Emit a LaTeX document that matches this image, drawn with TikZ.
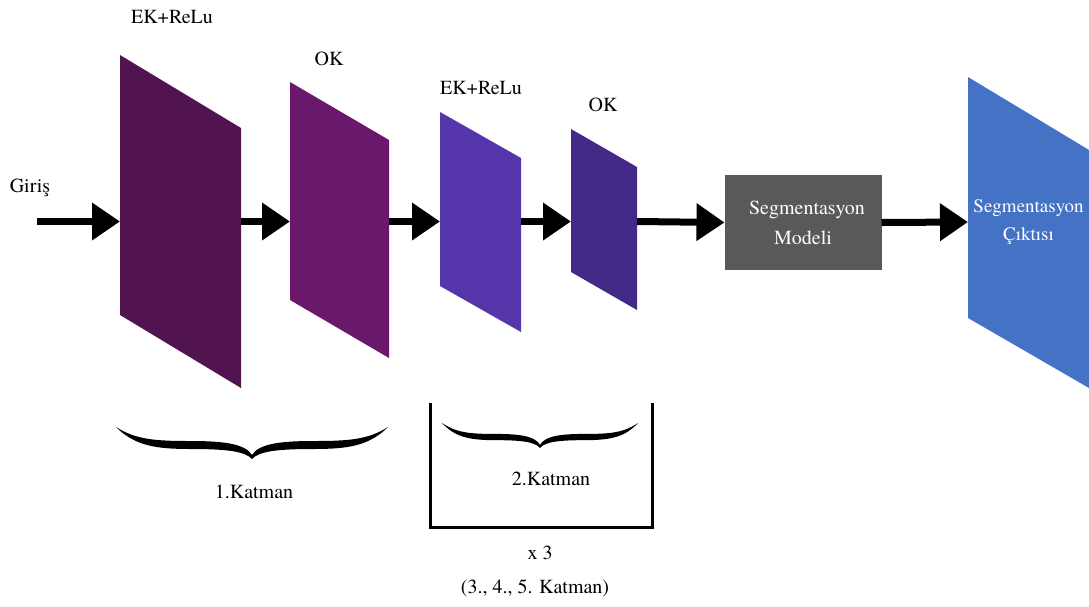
\documentclass[tikz,border=0pt]{standalone}
\usepackage{fontspec}
\setmainfont{texgyretermes}[Extension=.otf, UprightFont=*-regular, BoldFont=*-bold,
  ItalicFont=*-italic, BoldItalicFont=*-bolditalic]
\usetikzlibrary{arrows.meta}
\definecolor{convA}{HTML}{521451}
\definecolor{poolA}{HTML}{6A186B}
\definecolor{convB}{HTML}{5535AA}
\definecolor{poolB}{HTML}{442A88}
\definecolor{segbox}{HTML}{595959}
\definecolor{outblue}{HTML}{4472C4}

% calligraphic curly brace: centre x, top y, half width, vertical scale
\newcommand\curlybrace[4]{%
  \begin{scope}[shift={(#1,#2)}, xscale=#3, yscale=#4]
    \fill (-1,0) .. controls (-0.85,13) and (-0.7,14) .. (-0.45,14)
      .. controls (-0.2,14) and (-0.05,17) .. (0,28)
      .. controls (0.05,17) and (0.2,14) .. (0.45,14)
      .. controls (0.7,14) and (0.85,13) .. (1,0)
      -- (0.985,2) .. controls (0.85,19) and (0.7,22) .. (0.45,22)
      .. controls (0.2,22) and (0.05,24) .. (0,32)
      .. controls (-0.05,24) and (-0.2,22) .. (-0.45,22)
      .. controls (-0.7,22) and (-0.85,19) .. (-0.985,2) -- cycle;
  \end{scope}}

\begin{document}
\begin{tikzpicture}[x=1pt, y=-1pt,
  flow/.style={line width=7pt, -{Triangle[length=28pt,width=36pt]}},
  lbl/.style={font=\fontsize{20}{24}\selectfont, inner sep=0},
  port/.style={inner sep=0, outer sep=0, minimum height=1pt, minimum width=#1},
]
\useasboundingbox (0,0) rectangle (1089,606);

% feature-map slabs
\fill[convA] (120,55) -- (241,128) -- (241,388) -- (120,315) -- cycle;
\fill[poolA] (290,82) -- (389,140) -- (389,358) -- (290,300) -- cycle;
\fill[convB] (440,112) -- (521,158) -- (521,332) -- (440,286) -- cycle;
\fill[poolB] (571,129) -- (637,167) -- (637,310) -- (571,272) -- cycle;
\fill[outblue] (968,77) -- (1089,150) -- (1089,388) -- (968,318) -- cycle;

% connection ports of the slabs
\coordinate (in) at (37,221.5);
\node[port=121pt] (L1) at (180.5,221.5) {};
\node[port=99pt]  (L2) at (339.5,221.5) {};
\node[port=81pt]  (L3) at (480.5,221.5) {};
\node[port=66pt]  (L4) at (604,221.5) {};

% segmentation model block
\node[fill=segbox, inner sep=0, outer sep=0, minimum width=157pt, minimum height=95pt,
      text=white, align=center, font=\fontsize{20}{30}\selectfont]
  (seg) at (803,222.5) {\hspace{8pt}Segmentasyon\\Modeli};

% output slab text
\node[inner sep=0, outer sep=0, minimum width=121pt, text=white, align=center,
      font=\fontsize{19}{28}\selectfont] (out) at (1028.5,222) {Segmentasyon\\Çıktısı};

% arrows
\draw[flow] (in) -- (L1.west);
\draw[flow] (L1.east) -- (L2.west);
\draw[flow] (L2.east) -- (L3.west);
\draw[flow] (L3.east) -- (L4.west);
\draw[flow] (L4.east) -- (seg.west);
\draw[flow] (seg.east) -- (out.west);

% labels
\node[lbl] (t1) at (172,17) {EK+ReLu};
\node[lbl] (t2) at (329,59) {OK};
\node[lbl] (t3) at (481,88) {EK+ReLu};
\node[lbl] (t4) at (603,105) {OK};
\node[lbl] (gin) at (30,188) {Giriş};

% braces and group frame
\curlybrace{252}{427}{136}{1}
\node[lbl] (k1) at (254,492) {1.Katman};
\draw[line width=3pt, line join=miter] (430,403) -- (430,527) -- (652,527) -- (652,403);
\curlybrace{540}{423}{98}{0.78}
\node[lbl] (k2) at (551,479) {2.Katman};
\node[lbl] (rep) at (540,553) {x 3};
\node[lbl] (rep2) at (535,588) {(3., 4., 5. Katman)};
\end{tikzpicture}
\end{document}
